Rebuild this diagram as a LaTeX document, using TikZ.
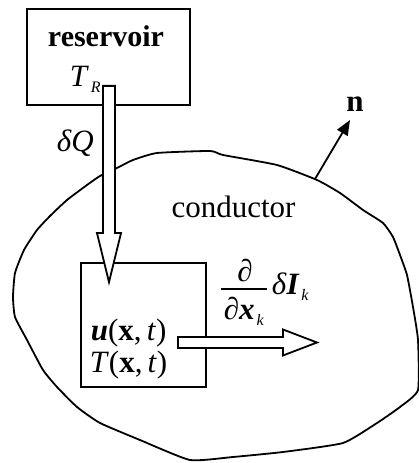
\documentclass[tikz,border=0pt]{standalone}
\usepackage{fontspec}
\usepackage{amsmath}
\setmainfont{Liberation Serif}
\usetikzlibrary{arrows.meta,calc}
\begin{document}
\begin{tikzpicture}[x=1pt, y=1pt, line width=1.8pt, font=\fontsize{31}{34}\selectfont,
    box/.style={draw, inner sep=0pt},
    hollow/.style={draw, fill=white, line join=miter},
    sub/.style={font=\fontsize{16}{16}\selectfont\itshape}]
    \useasboundingbox (0,0) rectangle (418,463);
    % conductor outline
    \draw plot[smooth cycle, tension=0.3] coordinates {(13,166) (15,190) (24,213) (37,233) (50,247) (67,263) (87,278) (100,287) (115,294) (133,303) (157,310) (210,312) (223,308) (277,298) (317,283) (340,270) (363,253) (383,240) (393,226) (400,208) (407,188) (413,156) (418,123) (418,73) (400,56) (377,40) (343,20) (283,11) (233,6) (190,3) (140,23) (100,40) (77,56) (57,76) (43,93) (27,123) (15,146)};
    \node (cond) [anchor=base] at (233.5,245) {conductor};
    % boxes
    \node (res) [box, minimum width=163pt, minimum height=96pt] at (108.5,406) {};
    \node (cell) [box, minimum width=125pt, minimum height=124pt] at (143.5,138) {};
    \node (resname) [anchor=base, font=\fontsize{30}{34}\selectfont\bfseries] at (106,416) {reservoir};
    \node (TR) [anchor=base west, inner sep=0pt] at (69,376) {\textit{T}};
    \node (R) [sub, anchor=base west, inner sep=0pt] at ([yshift=-6pt]TR.base east) {R};
    % heat from reservoir
    \coordinate (qtop) at ([shift={(0.5,20)}]res.south);
    \coordinate (qtip) at ([shift={(-34.5,-20)}]cell.north);
    \draw[hollow] ([xshift=-6pt]qtop) -- ([xshift=6pt]qtop) -- ([shift={(6,49)}]qtip) -- ([shift={(12,49)}]qtip) -- (qtip) -- ([shift={(-12,49)}]qtip) -- ([shift={(-6,49)}]qtip) -- cycle;
    \node (dQ) [anchor=base west, inner sep=0pt] at (56,311) {\textit{δQ}};
    % cell state
    \node (u) [anchor=base west, inner sep=0pt] at (90,122) {\textbf{\textit{u}}(\textbf{x},\,\textit{t})};
    \node (T) [anchor=base west, inner sep=0pt] at (89,90) {\textit{T}(\textbf{x},\,\textit{t})};
    % flux out of the cell
    \coordinate (jtail) at ([shift={(-29,-17.5)}]cell.east);
    \coordinate (jtip) at (317,120.5);
    \draw[hollow] ([yshift=5.5pt]jtail) -- ([shift={(-34,5.5)}]jtip) -- ([shift={(-34,13)}]jtip) -- (jtip) -- ([shift={(-34,-13)}]jtip) -- ([shift={(-34,-5.5)}]jtip) -- ([yshift=-5.5pt]jtail) -- cycle;
    \node (num) [inner sep=0pt] at (245,192) {\textit{∂}};
    \draw (221,174) -- (267,174);
    \node (den) [anchor=base west, inner sep=0pt] at (223,143) {\textit{∂}\textbf{\textit{x}}};
    \node (denk) [sub, anchor=base west, inner sep=0pt] at ([yshift=-6pt]den.base east) {k};
    \node (dI) [anchor=base west, inner sep=0pt] at (271,168) {\textit{δ}\textbf{\textit{I}}};
    \node (dIk) [sub, anchor=base west, inner sep=0pt] at ([yshift=-6pt]dI.base east) {k};
    % outward normal
    \coordinate (nbase) at (315,284);
    \node (n) [anchor=base, font=\fontsize{31}{34}\selectfont\bfseries] at (355,351) {n};
    \draw [-{Triangle[length=15pt, width=12pt]}] (nbase) -- (350,343);
\end{tikzpicture}
\end{document}
